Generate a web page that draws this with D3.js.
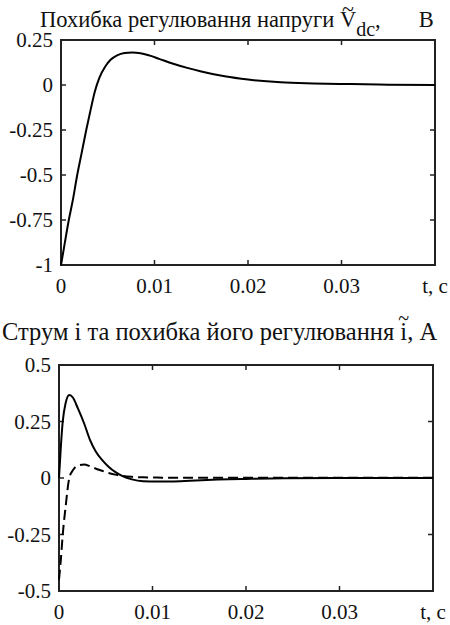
<!DOCTYPE html>
<html>
<head>
<meta charset="utf-8">
<script src="https://cdn.jsdelivr.net/npm/d3@7"></script>
<style>
  body { margin: 0; background: #fff; }
  svg text { font-family: "Liberation Serif", "DejaVu Serif", serif; fill: #111; }
</style>
</head>
<body>
<svg width="450" height="625"></svg>
<script>
// voltage error, top plot
const timeV = [0, 0.0003, 0.0008, 0.0013, 0.0017, 0.0022, 0.0027, 0.0032, 0.0036, 0.0041, 0.0047, 0.0053, 0.006, 0.0068, 0.0076, 0.0085, 0.0095, 0.0105, 0.012, 0.0135, 0.015, 0.0175, 0.02, 0.0235, 0.027, 0.031, 0.035, 0.04];
const errV = [-1, -0.91, -0.76, -0.63, -0.51, -0.38, -0.25, -0.13, -0.04, 0.04, 0.1, 0.14, 0.165, 0.178, 0.181, 0.177, 0.163, 0.145, 0.118, 0.095, 0.075, 0.048, 0.03, 0.015, 0.009, 0.005, 0.002, 0];

// current (solid) and its error (dashed), bottom plot
const timeI = [0, 0.0002, 0.0004, 0.0007, 0.0011, 0.0015, 0.002, 0.0027, 0.0033, 0.0039, 0.0046, 0.0053, 0.006, 0.0068, 0.0078, 0.009, 0.0105, 0.012, 0.014, 0.017, 0.02, 0.024, 0.03, 0.04];
const curI = [0, 0.14, 0.25, 0.33, 0.367, 0.355, 0.31, 0.24, 0.17, 0.12, 0.08, 0.05, 0.027, 0.008, -0.006, -0.014, -0.016, -0.015, -0.012, -0.007, -0.004, -0.001, 0, 0];
const errI = [-0.45, -0.36, -0.25, -0.13, 0.0, 0.035, 0.055, 0.06, 0.052, 0.042, 0.032, 0.022, 0.015, 0.009, 0.005, 0.003, 0.002, 0.001, 0.001, 0.001, 0.001, 0.001, 0.001, 0.001];

const xTicks = [0, 0.01, 0.02, 0.03, 0.04];
const xTickLabels = ["0", "0.01", "0.02", "0.03", "t, c"];
const yTicksV = [0.25, 0, -0.25, -0.5, -0.75, -1];
const yTicksI = [0.5, 0.25, 0, -0.25, -0.5];

const svg = d3.select("svg");

// draws one boxed panel the way matlab does (ticks inward on all four sides)
function panel(box, yDomain, yTicks) {
  const x = d3.scaleLinear().domain([0, 0.04]).range([box.left, box.right]);
  const y = d3.scaleLinear().domain(yDomain).range([box.bottom, box.top]);
  const g = svg.append("g");

  const tickLen = 5;
  const tk = g.append("g").attr("stroke", "#222").attr("stroke-width", 1.5);
  xTicks.forEach((t) => {
    tk.append("line").attr("x1", x(t)).attr("x2", x(t)).attr("y1", box.bottom).attr("y2", box.bottom - tickLen);
    tk.append("line").attr("x1", x(t)).attr("x2", x(t)).attr("y1", box.top).attr("y2", box.top + tickLen);
  });
  yTicks.forEach((v) => {
    tk.append("line").attr("x1", box.left).attr("x2", box.left + tickLen).attr("y1", y(v)).attr("y2", y(v));
    tk.append("line").attr("x1", box.right).attr("x2", box.right - tickLen).attr("y1", y(v)).attr("y2", y(v));
  });

  g.append("rect")
    .attr("x", box.left).attr("y", box.top)
    .attr("width", box.right - box.left).attr("height", box.bottom - box.top)
    .attr("fill", "none").attr("stroke", "#222").attr("stroke-width", 2);

  g.selectAll(".xl").data(xTicks).join("text")
    .attr("x", (d) => x(d)).attr("y", box.bottom + 28)
    .attr("text-anchor", "middle").attr("font-size", 21)
    .text((d, i) => xTickLabels[i]);

  g.selectAll(".yl").data(yTicks).join("text")
    .attr("x", box.left - 8).attr("y", (d) => y(d)).attr("dy", "0.35em")
    .attr("text-anchor", "end").attr("font-size", 21)
    .text((d) => String(d));

  return { x, y, g };
}

const topPanel = panel({ left: 61, right: 435, top: 40, bottom: 265 }, [-1, 0.25], yTicksV);
const botPanel = panel({ left: 59, right: 433, top: 365, bottom: 591 }, [-0.5, 0.5], yTicksI);

const lineV = d3.line().x((d, i) => topPanel.x(timeV[i])).y((d) => topPanel.y(d)).curve(d3.curveMonotoneX);
topPanel.g.append("path").attr("d", lineV(errV))
  .attr("fill", "none").attr("stroke", "#000").attr("stroke-width", 2);

const lineI = d3.line().x((d, i) => botPanel.x(timeI[i])).y((d) => botPanel.y(d)).curve(d3.curveMonotoneX);
botPanel.g.append("path").attr("d", lineI(curI))
  .attr("fill", "none").attr("stroke", "#000").attr("stroke-width", 2);
botPanel.g.append("path").attr("d", lineI(errI))
  .attr("fill", "none").attr("stroke", "#000").attr("stroke-width", 2)
  .attr("stroke-dasharray", "10,5");

// put a tilde over one character of a title (matlab \tilde)
function tildeOver(textSel, charIndex, size, lift) {
  const node = textSel.node();
  const box = node.getExtentOfChar(charIndex);
  svg.append("text")
    .attr("x", box.x + box.width / 2)
    .attr("y", +textSel.attr("y") - lift)
    .attr("text-anchor", "middle").attr("font-size", size)
    .text("~");
}

// titles
const title1 = "Похибка регулювання напруги ";
const t1 = svg.append("text").attr("x", 40).attr("y", 27).attr("font-size", 22.5);
t1.append("tspan").text(title1 + "V");
t1.append("tspan").attr("font-size", 20).attr("dy", 9).text("dc");
t1.append("tspan").attr("dy", -9).text(",");
t1.append("tspan").attr("dx", 38).text("В");
tildeOver(t1, title1.length, 22, 11);

const title2 = "Струм і та похибка його регулювання ";
const t2 = svg.append("text").attr("x", 2).attr("y", 340).attr("font-size", 24.5)
  .text(title2 + "i, А");
tildeOver(t2, title2.length, 20, 15);
</script>
</body>
</html>
